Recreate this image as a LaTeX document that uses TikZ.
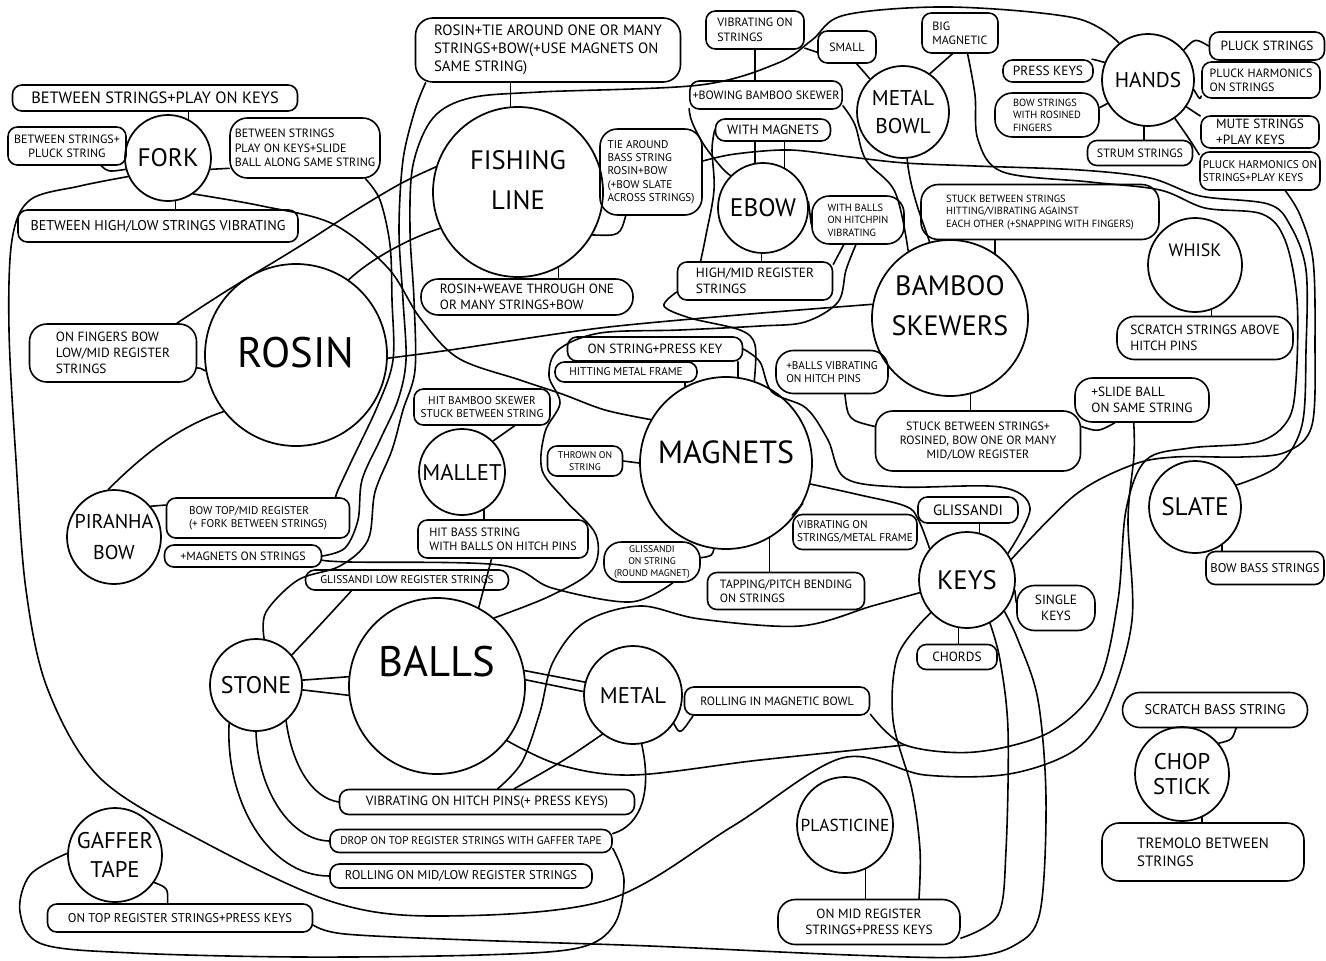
\documentclass[tikz,border=0pt]{standalone}
\usepackage{fontspec}
\setmainfont{PT Sans}

\begin{document}
\begin{tikzpicture}[
  x=0.75pt, y=-0.75pt,
  line width=1.3pt,
  concept/.style={circle, draw, inner sep=0pt, minimum size=#1*1.5pt},
  cname/.style 2 args={font=\fontsize{#1}{#2}\selectfont, align=center},
  idea/.style 2 args={draw, line width=1.2pt, rounded corners=7pt, align=center,
                      inner sep=2pt, minimum width=#1*0.75pt, minimum height=#2*0.75pt},
  blob/.style={rounded corners=13pt},
  link/.style={line width=1.2pt, line cap=round, line join=round},
  f65/.style={font=\fontsize{7.3}{8.8}\selectfont},
  f7/.style={font=\fontsize{7.8}{9.4}\selectfont},
  f75/.style={font=\fontsize{8.4}{10}\selectfont},
  f8/.style={font=\fontsize{9}{10.8}\selectfont},
  f85/.style={font=\fontsize{9.5}{11.4}\selectfont},
  f9/.style={font=\fontsize{10}{12}\selectfont},
  f95/.style={font=\fontsize{10.6}{12.7}\selectfont},
  f10/.style={font=\fontsize{11.2}{13.4}\selectfont},
  f11/.style={font=\fontsize{12.3}{14.5}\selectfont}
]

\fill[white] (0,0) rectangle (1326,960);
\useasboundingbox (0,0) rectangle (1326,960);

% materials
\node[concept=43, label={[cname={19}{24}]center:FORK}] (fork) at (168,158) {};
\node[concept=85, label={[cname={20}{30}, yshift=9pt]center:FISHING\\LINE}] (fishline) at (518,192) {};
\node[concept=45, label={[cname={19}{24}]center:EBOW}] (ebow) at (763,208) {};
\node[concept=46, label={[cname={16}{21}]center:METAL\\BOWL}] (bowl) at (903,112) {};
\node[concept=46, label={[cname={16}{20}]center:HANDS}] (hands) at (1148,80) {};
\node[concept=47, label={[cname={13.5}{16}, yshift=11pt]center:WHISK}] (whisk) at (1195,265) {};
\node[concept=78, label={[cname={21}{30}, yshift=9pt]center:BAMBOO\\SKEWERS}] (bamboo) at (950,318) {};
\node[concept=91, label={[cname={32}{36}, yshift=2pt]center:ROSIN}] (rosin) at (296,355) {};
\node[concept=86, label={[cname={24}{28}, yshift=8pt]center:MAGNETS}] (magnets) at (726,463) {};
\node[concept=43, label={[cname={17}{20}]center:MALLET}] (mallet) at (462,472) {};
\node[concept=47, label={[cname={15}{23}]center:PIRANHA\\BOW}] (piranha) at (114,537) {};
\node[concept=48, label={[cname={20}{24}]center:KEYS}] (keys) at (967,580) {};
\node[concept=46, label={[cname={19}{22}]center:SLATE}] (slate) at (1195,507) {};
\node[concept=46, label={[cname={18}{22}]center:STONE}] (stone) at (256,685) {};
\node[concept=88, label={[cname={32}{36}, yshift=18pt]center:BALLS}] (balls) at (437,686) {};
\node[concept=49, label={[cname={17}{20}]center:METAL}] (metal) at (633,695) {};
\node[concept=48, label={[cname={13}{15}]center:PLASTICINE}] (plasticine) at (845,825) {};
\node[concept=47, label={[cname={17}{22}]center:GAFFER\\TAPE}] (gaffer) at (115,855) {};
\node[concept=47, label={[cname={17}{19}]center:CHOP\\STICK}] (chop) at (1182,774) {};

% techniques
\node[idea={285}{26}, f11] (forkKeys) at (155,98) {BETWEEN STRINGS+PLAY ON KEYS};
\node[idea={118}{38}, f8] (forkPluck) at (67,146) {BETWEEN STRINGS+\\PLUCK STRING};
\node[idea={150}{60}, blob, f8, align=left] (forkSlide) at (305,148) {BETWEEN STRINGS\\PLAY ON KEYS+SLIDE\\BALL ALONG SAME STRING};
\node[idea={280}{32}, f95] (forkHighLow) at (158,226) {BETWEEN HIGH/LOW STRINGS VIBRATING};
\node[idea={265}{64}, blob, f10, align=left] (fishTie) at (548,50) {ROSIN+TIE AROUND ONE OR MANY\\STRINGS+BOW(+USE MAGNETS ON\\SAME STRING)};
\node[idea={102}{86}, blob, f75, align=left] (fishBass) at (651,172) {TIE AROUND\\BASS STRING\\ROSIN+BOW\\(+BOW SLATE\\ACROSS STRINGS)};
\node[idea={212}{36}, blob, f9, align=left] (fishWeave) at (527,297) {ROSIN+WEAVE THROUGH ONE\\OR MANY STRINGS+BOW};
\node[idea={98}{38}, f8, align=left] (ebVib) at (755,30) {VIBRATING ON\\STRINGS};
\node[idea={58}{32}, f8] (bowlSmall) at (847,47) {SMALL};
\node[idea={76}{40}, f8, align=left] (bowlBig) at (960,33) {BIG\\MAGNETIC};
\node[idea={150}{28}, f8] (ebBowing) at (766,95) {+BOWING BAMBOO SKEWER};
\node[idea={115}{22}, f9] (ebMag) at (773,130) {WITH MAGNETS};
\node[idea={92}{48}, blob, f7, align=left] (ebBalls) at (858,220) {WITH BALLS\\ON HITCHPIN\\VIBRATING};
\node[idea={155}{38}, f9, align=left] (ebHigh) at (755,281) {HIGH/MID REGISTER\\STRINGS};
\node[idea={90}{22}, f9] (hdPress) at (1048,71) {PRESS KEYS};
\node[idea={104}{44}, blob, f7, align=left] (hdBow) at (1047,115) {BOW STRINGS\\WITH ROSINED\\FINGERS};
\node[idea={115}{28}, f9] (hdPluck) at (1267,46) {PLUCK STRINGS};
\node[idea={118}{36}, f8, align=left] (hdHarm) at (1261,80) {PLUCK HARMONICS\\ON STRINGS};
\node[idea={118}{32}, f9, align=left] (hdMute) at (1260,132) {MUTE STRINGS\\+PLAY KEYS};
\node[idea={120}{38}, f75, align=left] (hdHarmKeys) at (1260,171) {PLUCK HARMONICS ON\\STRINGS+PLAY KEYS};
\node[idea={105}{25}, f8] (hdStrum) at (1140,153) {STRUM STRINGS};
\node[idea={238}{55}, blob, f7, align=left] (bbStuck) at (1040,212) {STUCK BETWEEN STRINGS\\HITTING/VIBRATING AGAINST\\EACH OTHER (+SNAPPING WITH FINGERS)};
\node[idea={176}{43}, blob, f9, align=left] (whScratch) at (1205,338) {SCRATCH STRINGS ABOVE\\HITCH PINS};
\node[idea={134}{44}, blob, f9, align=left] (bbSlide) at (1142,400) {+SLIDE BALL\\ON SAME STRING};
\node[idea={205}{60}, blob, f8] (bbRosined) at (978,441) {STUCK BETWEEN STRINGS+\\ROSINED, BOW ONE OR MANY\\MID/LOW REGISTER};
\node[idea={112}{43}, blob, f75, align=left] (bbBalls) at (832,372) {+BALLS VIBRATING\\ON HITCH PINS};
\node[idea={175}{24}, f9] (mgPress) at (655,349) {ON STRING+PRESS KEY};
\node[idea={142}{20}, f75] (mgFrame) at (626,372) {HITTING METAL FRAME};
\node[idea={136}{36}, f75] (mlBamboo) at (482,407) {HIT BAMBOO SKEWER\\STUCK BETWEEN STRING};
\node[idea={75}{30}, f65] (mgThrown) at (585,461) {THROWN ON\\STRING};
\node[idea={167}{58}, blob, f9, align=left] (rsFingers) at (113,353) {ON FINGERS BOW\\LOW/MID REGISTER\\STRINGS};
\node[idea={183}{40}, f75, align=left] (pbTop) at (258,518) {BOW TOP/MID REGISTER\\(+ FORK BETWEEN STRINGS)};
\node[idea={157}{22}, f8] (pbMagnets) at (243,556) {+MAGNETS ON STRINGS};
\node[idea={170}{38}, f8, align=left] (mlBass) at (503,539) {HIT BASS STRING\\WITH BALLS ON HITCH PINS};
\node[idea={203}{20}, f75] (stGliss) at (407,580) {GLISSANDI LOW REGISTER STRINGS};
\node[idea={96}{40}, blob, f65] (mgGliss) at (652,562) {GLISSANDI\\ON STRING\\(ROUND MAGNET)};
\node[idea={124}{35}, f75, align=left] (mgVib) at (855,532) {VIBRATING ON\\STRINGS/METAL FRAME};
\node[idea={100}{26}, f10] (kyGliss) at (968,510) {GLISSANDI};
\node[idea={157}{37}, f8, align=left] (mgTap) at (786,591) {TAPPING/PITCH BENDING\\ON STRINGS};
\node[idea={78}{45}, blob, f9] (kySingle) at (1056,608) {SINGLE\\KEYS};
\node[idea={80}{25}, f9] (kyChords) at (957,657) {CHORDS};
\node[idea={118}{33}, f85] (slBass) at (1265,568) {BOW BASS STRINGS};
\node[idea={185}{28}, f8] (mtRolling) at (777,701) {ROLLING IN MAGNETIC BOWL};
\node[idea={295}{25}, f9] (blVib) at (487,802) {VIBRATING ON HITCH PINS(+ PRESS KEYS)};
\node[idea={282}{23}, f75] (blDrop) at (471,841) {DROP ON TOP REGISTER STRINGS WITH GAFFER TAPE};
\node[idea={262}{24}, f85] (blRoll) at (461,876) {ROLLING ON MID/LOW REGISTER STRINGS};
\node[idea={265}{28}, f85] (gtTop) at (180,918) {ON TOP REGISTER STRINGS+PRESS KEYS};
\node[idea={182}{45}, blob, f9] (plMid) at (869,922) {ON MID REGISTER\\STRINGS+PRESS KEYS};
\node[idea={185}{35}, blob, f95] (csScratch) at (1215,710) {SCRATCH BASS STRING};
\node[idea={202}{58}, blob, f10, align=left] (csTremolo) at (1203,852) {TREMOLO BETWEEN\\STRINGS};

% short stems
\draw[link] (fork.62) -- (fork.62 |- forkKeys.south);
\draw[link] (forkPluck.-30) .. controls (108,172) .. (fork.195);
\draw[link] (fork.-15) -- (forkSlide.195);
\draw[link] (fork.-80) -- (fork.-80 |- forkHighLow.north);
\draw[link] (fishline.95) -- (fishline.95 |- fishTie.south);
\draw[link] (fishline.-30) .. controls (620,236) .. (fishBass.-120);
\draw[link] (fishline.-62) -- (fishline.-62 |- fishWeave.north);
\draw[link] (ebow.100) -- (ebow.100 |- ebMag.south);
\draw[link] (ebow.62) -- (ebow.62 |- ebMag.south);
\draw[link] (ebow.-92) -- (ebow.-92 |- ebHigh.north);
\draw[link] (ebow.8) -- (ebBalls.185);
\draw[link] (ebBalls.-120) -- (ebHigh.12);
\draw[link] (ebVib.south) -- (ebVib.south |- ebBowing.north);
\draw[link] (ebVib.-20) -- (bowlSmall.190);
\draw[link] (bowl.135) -- (bowlSmall.-60);
\draw[link] (bowl.55) -- (bowlBig.-110);
\draw[link] (hdPress.15) .. controls (1096,60) .. (hands.158);
\draw[link] (hdBow.8) -- (hands.-150);
\draw[link] (hands.40) .. controls (1195,38) .. (hdPluck.west);
\draw[link] (hands.-12) .. controls (1200,100) .. (hdHarm.-165);
\draw[link] (hands.-35) -- (hdMute.165);
\draw[link] (hands.-55) .. controls (1190,140) .. (hdHarmKeys.165);
\draw[link] (hands.-95) -- (hands.-95 |- hdStrum.north);
\draw[link] (bamboo.55) -- (bamboo.55 |- bbStuck.south);
\draw[link] (bamboo.-75) -- (bamboo.-75 |- bbRosined.north);
\draw[link] (bbBalls.-60) .. controls (848,420) .. (bbRosined.172);
\draw[link] (bbRosined.8) .. controls (1098,432) .. (bbSlide.-140);
\draw[link] (whisk.-70) -- (whisk.-70 |- whScratch.north);
\draw[link] (slate.-55) -- (slate.-55 |- slBass.north);
\draw[link] (rsFingers.-10) .. controls (200,368) .. (rosin.190);
\draw[link] (piranha.40) -- (pbTop.172);
\draw[link] (mallet.45) -- (mlBamboo.-30);
\draw[link] (mallet.-60) -- (mallet.-60 |- mlBass.north);
\draw[link] (magnets.82) -- (magnets.82 |- mgPress.south);
\draw[link] (magnets.118) -- (magnets.118 |- mgFrame.south);
\draw[link] (mgThrown.east) -- (magnets.west);
\draw[link] (mgGliss.5) .. controls (712,556) .. (magnets.-98);
\draw[link] (magnets.-28) -- (mgVib.165);
\draw[link] (magnets.-60) -- (magnets.-60 |- mgTap.north);
\draw[link] (keys.75) -- (keys.75 |- kyGliss.south);
\draw[link] (keys.-12) -- (kySingle.172);
\draw[link] (keys.-100) -- (keys.-100 |- kyChords.north);
\draw[link] (stone.6) -- (balls.174);
\draw[link] (stone.-6) -- (balls.186);
\draw[link] (balls.10) -- (metal.165);
\draw[link] (balls.4) -- (metal.176);
\draw[link] (balls.62) -- (mlBass.-120);
\draw[link] (stone.40) .. controls (320,625) .. (stGliss.-169);
\draw[link] (stone.-50) .. controls (292,765) and (312,798) .. (blVib.west);
\draw[link] (stone.-90) .. controls (258,790) and (290,840) .. (blDrop.west);
\draw[link] (stone.-125) .. controls (225,800) and (268,876) .. (blRoll.west);
\draw[link] (metal.-35) .. controls (680,735) .. (mtRolling.-170);
\draw[link] (metal.-80) .. controls (652,790) and (642,825) .. (blDrop.3);
\draw[link] (metal.-128) .. controls (565,760) .. (blVib.26);
\draw[link] (plasticine.-65) -- (plasticine.-65 |- plMid.north);
\draw[link] (gaffer.-35) .. controls (168,888) .. (gtTop.130);
\draw[link] (chop.40) .. controls (1232,740) .. (csScratch.-41);
\draw[link] (chop.-65) -- (chop.-65 |- csTremolo.north);

% long threads
\draw[link] plot[smooth, tension=0.6] coordinates {(rsFingers.25) (228,290) (300,246) (353,212) (400,184) (fishline.163)};
\draw[link] plot[smooth, tension=0.55] coordinates {(stone.80) (266,612) (298,580) (340,566) (368,540) (375,492) (392,450) (403,410) (415,370) (414,300) (410,230) (413,165) (433,118) (470,98) (540,92) (700,85) (778,63) (812,40) (845,15) (950,7) (1075,18) (hands.128)};
\draw[link] plot[smooth, tension=0.55] coordinates {(forkSlide.-27) (380,200) (390,245) (392,300) (393,360) (378,405) (352,460) (338,490) (pbTop.15)};
\draw[link] plot[smooth, tension=0.55] coordinates {(pbMagnets.east) (345,548) (358,520) (362,480) (380,440) (398,400) (406,360) (403,300) (399,230) (403,160) (415,110) (fishTie.195)};
\draw[link] (rosin.55) .. controls (372,258) and (410,238) .. (fishline.205);
\draw[link] (rosin.218) .. controls (175,428) and (140,458) .. (piranha.97);
\draw[link] plot[smooth, tension=0.5] coordinates {(rosin.-2) (450,350) (600,328) (750,314) (bamboo.170)};
\draw[link] plot[smooth, tension=0.55] coordinates {(fork.-55) (262,206) (333,224) (388,268) (420,318) (458,358) (520,380) (562,394) (605,410) (magnets.150)};
\draw[link] plot[smooth, tension=0.55] coordinates {(fork.205) (80,186) (30,200) (12,240) (9,330) (16,460) (26,590) (48,690) (100,778) (200,840) (333,902) (442,916) (607,900) (733,826) (842,758) (925,775) (1009,774) (1075,750) (1108,705) (1132,620) (1128,520) (1134,455) (bbSlide.-110)};
\draw[link] plot[smooth, tension=0.55] coordinates {(fishBass.12) (735,154) (790,150) (850,157) (905,163) (975,166) (1080,170) (1150,178) (1200,196) (1268,204) (1290,225) (1306,270) (1306,350) (1302,425) (1278,466) (slate.28)};
\draw[link] plot[smooth, tension=0.55] coordinates {(bowlBig.-70) (975,95) (978,140) (1003,172) (1090,182) (1160,190) (1205,208) (1262,214) (1285,240) (1297,300) (1296,380) (1288,420) (1258,442) (1190,448) (1146,460) (1126,510) (1118,600) (1098,684) (1050,732) (975,752) (905,745) (mtRolling.-8)};
\draw[link] plot[smooth, tension=0.55] coordinates {(hdHarmKeys.-38) (1300,215) (1313,260) (1315,340) (1312,425) (1286,452) (1242,457) (1175,457) (1132,465) (1075,495) (keys.25)};
\draw[link] plot[smooth, tension=0.6] coordinates {(ebMag.west) (712,150) (714,190) (706,235) (ebHigh.160)};
\draw[link] plot[smooth, tension=0.6] coordinates {(ebBowing.-170) (692,122) (704,145) (722,168) (ebow.135)};
\draw[link] plot[smooth, tension=0.6] coordinates {(ebBowing.-8) (855,125) (866,160) (895,192) (bamboo.122)};
\draw[link] (bowl.-85) .. controls (910,190) and (922,220) .. (bamboo.105);
\draw[link] plot[smooth, tension=0.55] coordinates {(balls.50) (550,596) (592,570) (596,535) (565,500) (542,470) (545,432) (560,403) (549,376) (558,350) (600,333) (680,330) (760,326) (805,322) (838,302) (846,270) (ebBalls.-95)};
\draw[link] plot[smooth, tension=0.55] coordinates {(mgPress.east) (760,362) (772,392) (806,408) (828,440) (845,478) (900,487) (1000,487) (1030,508) (keys.33)};
\draw[link] plot[smooth, tension=0.6] coordinates {(magnets.-14) (860,495) (905,506) (918,519) (keys.140)};
\draw[link] plot[smooth, tension=0.55] coordinates {(blVib.51) (522,762) (540,712) (553,662) (585,622) (640,606) (700,619) (800,626) (872,606) (keys.195)};
\coordinate (meet) at (905,745);
\draw[link] plot[smooth, tension=0.55] coordinates {(balls.-38) (560,765) (633,775) (760,760) (meet)};
\draw[link] plot[smooth, tension=0.55] coordinates {(blDrop.-3) (624,880) (614,925) (578,948) (480,955) (300,957) (133,953) (42,944) (20,912) (30,875) (gaffer.178)};
\draw[link] plot[smooth, tension=0.55] coordinates {(gtTop.-3) (345,934) (470,940) (650,946) (850,955) (965,957) (1015,945) (1040,912) (1046,800) (1038,700) (1018,640) (keys.-40)};
\draw[link] plot[smooth, tension=0.55] coordinates {(keys.-138) (898,655) (893,720) (912,790) (920,850) (plMid.25)};
\draw[link] plot[smooth, tension=0.55] coordinates {(keys.-62) (1000,660) (1008,730) (1006,850) (998,915) (plMid.-10)};
\draw[link] plot[smooth, tension=0.55] coordinates {(pbMagnets.-3) (350,562) (500,565) (552,588) (630,602) (mgGliss.-45)};
\draw[link] plot[smooth, tension=0.55] coordinates {(ebHigh.188) (664,306) (690,318) (740,330) (755,345) (magnets.71)};

\end{tikzpicture}
\end{document}
